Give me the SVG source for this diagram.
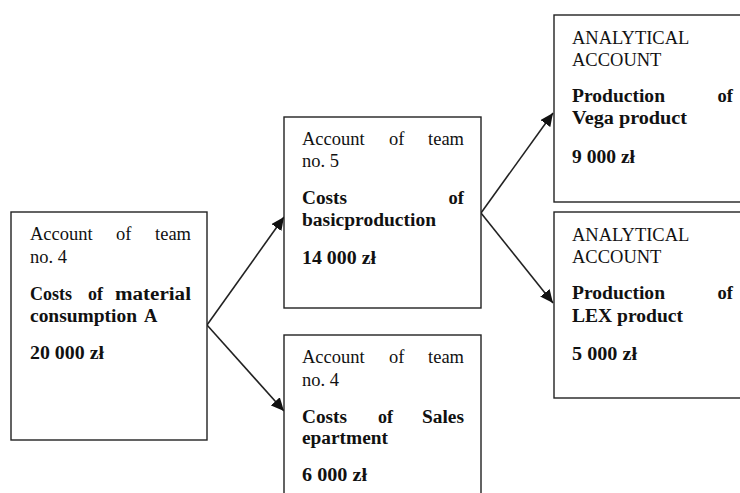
<svg xmlns="http://www.w3.org/2000/svg" width="740" height="493" viewBox="0 0 740 493">
<defs>
<marker id="ah" markerUnits="userSpaceOnUse" markerWidth="14" markerHeight="12" refX="13" refY="6" orient="auto">
<path d="M0,0 L13,6 L0,12 Z" fill="#111"/>
</marker>
<style>
.box{fill:#fff;stroke:#222;stroke-width:1.4}
text{font-family:"Liberation Serif","Times New Roman",serif;font-size:18.5px;fill:#111}
.b{font-weight:bold}
.n{font-weight:bold;font-size:18.5px}
.e{text-anchor:end}
.conn{stroke:#222;stroke-width:1.6;fill:none;marker-end:url(#ah)}
</style>
</defs>
<rect width="740" height="493" fill="#fff"/>
<g id="connectors">
<line class="conn" x1="207" y1="325" x2="284" y2="217"/>
<line class="conn" x1="207" y1="325" x2="284" y2="411"/>
<line class="conn" x1="481" y1="213" x2="553" y2="113"/>
<line class="conn" x1="481" y1="213" x2="553" y2="303"/>
</g>
<g id="node1">
<rect class="box" x="11" y="212" width="196" height="228"/>
<text x="30" y="240">Account</text><text x="116" y="240">of</text><text class="e" x="191" y="240">team</text>
<text x="30" y="263">no. 4</text>
<text class="b" x="30" y="300" textLength="42" lengthAdjust="spacingAndGlyphs">Costs</text><text class="b" x="88" y="300" textLength="15" lengthAdjust="spacingAndGlyphs">of</text><text class="b" x="115" y="300" textLength="76" lengthAdjust="spacingAndGlyphs">material</text>
<text class="b" x="30" y="322" textLength="107" lengthAdjust="spacingAndGlyphs">consumption</text><text class="b" x="144" y="322">A</text>
<text class="n" x="30" y="359" textLength="74" lengthAdjust="spacingAndGlyphs">20 000 zł</text>
</g>
<g id="node2">
<rect class="box" x="284" y="117" width="197" height="191"/>
<text x="302" y="145">Account</text><text x="389" y="145">of</text><text class="e" x="464" y="145">team</text>
<text x="302" y="167">no. 5</text>
<text class="b" x="302" y="204" textLength="45" lengthAdjust="spacingAndGlyphs">Costs</text><text class="b e" x="464" y="204">of</text>
<text class="b" x="302" y="226" textLength="134" lengthAdjust="spacingAndGlyphs">basicproduction</text>
<text class="n" x="302" y="264" textLength="74" lengthAdjust="spacingAndGlyphs">14 000 zł</text>
</g>
<g id="node3">
<rect class="box" x="284" y="335" width="197" height="170"/>
<text x="302" y="363">Account</text><text x="389" y="363">of</text><text class="e" x="464" y="363">team</text>
<text x="302" y="386">no. 4</text>
<text class="b" x="302" y="423" textLength="45" lengthAdjust="spacingAndGlyphs">Costs</text><text class="b" x="378" y="423" textLength="15" lengthAdjust="spacingAndGlyphs">of</text><text class="b" x="422" y="423" textLength="42" lengthAdjust="spacingAndGlyphs">Sales</text>
<text class="b" x="302" y="444" textLength="86" lengthAdjust="spacingAndGlyphs">epartment</text>
<text class="n" x="302" y="481" textLength="65" lengthAdjust="spacingAndGlyphs">6 000 zł</text>
</g>
<g id="node4">
<rect class="box" x="554" y="15" width="195" height="187"/>
<text x="572" y="44">ANALYTICAL</text>
<text x="572" y="66">ACCOUNT</text>
<text class="b" x="572" y="102" textLength="93" lengthAdjust="spacingAndGlyphs">Production</text><text class="b e" x="733" y="102">of</text>
<text class="b" x="572" y="124" textLength="115" lengthAdjust="spacingAndGlyphs">Vega product</text>
<text class="n" x="572" y="163" textLength="63" lengthAdjust="spacingAndGlyphs">9 000 zł</text>
</g>
<g id="node5">
<rect class="box" x="554" y="212" width="195" height="186"/>
<text x="572" y="241">ANALYTICAL</text>
<text x="572" y="263">ACCOUNT</text>
<text class="b" x="572" y="299" textLength="93" lengthAdjust="spacingAndGlyphs">Production</text><text class="b e" x="733" y="299">of</text>
<text class="b" x="572" y="322" textLength="111" lengthAdjust="spacingAndGlyphs">LEX product</text>
<text class="n" x="572" y="360" textLength="65" lengthAdjust="spacingAndGlyphs">5 000 zł</text>
</g>
</svg>
